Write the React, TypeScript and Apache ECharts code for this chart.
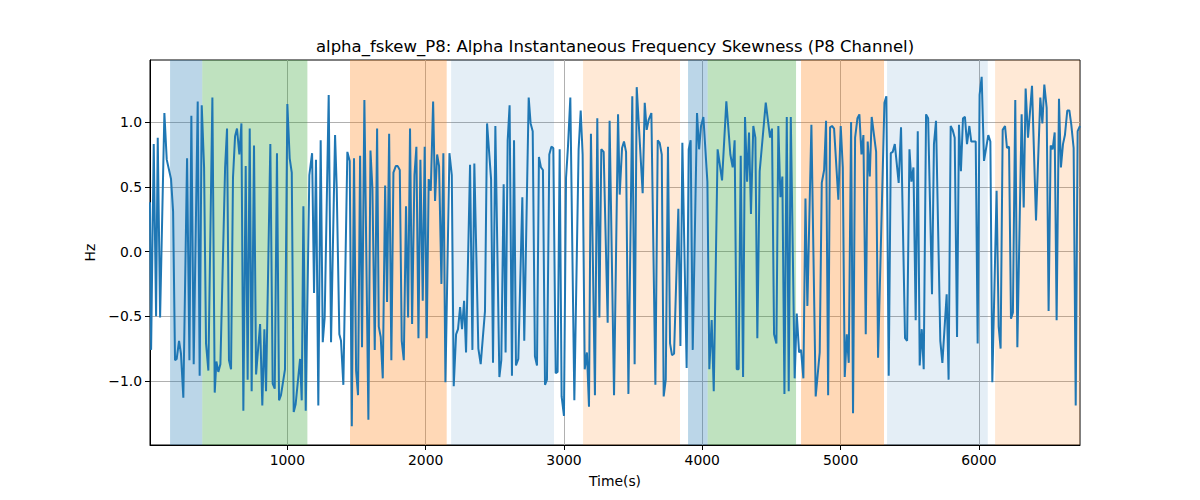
import React, { useEffect, useRef } from "react";
import * as echarts from "echarts";

// time in seconds and the alpha skewness (Hz)
const timeS = [
  7, 15, 34, 51, 63, 80, 111, 128, 159, 174, 188, 200, 217, 231, 248, 275, 292, 306, 323, 352,
  366, 381, 398, 412, 429, 458, 475, 487, 501, 516, 550, 564, 578, 593, 607, 622, 636, 653, 668, 682,
  699, 713, 728, 742, 759, 774, 803, 819, 834, 846, 877, 894, 909, 925, 940, 954, 983, 1000, 1017, 1032,
  1046, 1060, 1092, 1104, 1116, 1133, 1159, 1179, 1193, 1207, 1224, 1241, 1256, 1270, 1299, 1316, 1345, 1357, 1376, 1388,
  1405, 1434, 1451, 1466, 1482, 1497, 1511, 1526, 1540, 1557, 1586, 1601, 1615, 1632, 1649, 1661, 1675, 1690, 1707, 1721,
  1736, 1752, 1767, 1784, 1798, 1813, 1827, 1842, 1858, 1873, 1887, 1902, 1919, 1933, 1948, 1962, 1979, 1993, 2008, 2022,
  2037, 2054, 2068, 2083, 2097, 2114, 2128, 2143, 2172, 2189, 2203, 2220, 2234, 2249, 2263, 2278, 2292, 2321, 2338, 2352,
  2381, 2398, 2429, 2444, 2473, 2487, 2504, 2533, 2547, 2564, 2578, 2593, 2607, 2624, 2639, 2653, 2670, 2699, 2713, 2745,
  2759, 2774, 2790, 2805, 2819, 2834, 2848, 2863, 2877, 2894, 2909, 2923, 2940, 2954, 2969, 2983, 3000, 3015, 3029, 3046,
  3075, 3106, 3121, 3135, 3150, 3166, 3181, 3195, 3224, 3241, 3256, 3270, 3287, 3316, 3330, 3362, 3391, 3403, 3420, 3434,
  3449, 3466, 3494, 3511, 3526, 3569, 3584, 3598, 3613, 3632, 3661, 3678, 3692, 3707, 3721, 3736, 3752, 3767, 3781, 3796,
  3827, 3842, 3856, 3887, 3902, 3916, 3931, 3962, 3977, 3991, 4008, 4037, 4051, 4068, 4083, 4111, 4143, 4174, 4203, 4220,
  4234, 4249, 4263, 4278, 4295, 4309, 4324, 4338, 4352, 4369, 4384, 4398, 4415, 4459, 4490, 4504, 4519, 4536, 4550, 4565,
  4579, 4594, 4611, 4625, 4640, 4668, 4683, 4700, 4714, 4731, 4746, 4760, 4789, 4820, 4849, 4864, 4881, 4895, 4910, 4924,
  4938, 4953, 4984, 5001, 5016, 5030, 5045, 5059, 5076, 5090, 5105, 5122, 5136, 5151, 5165, 5182, 5196, 5211, 5225, 5257,
  5271, 5317, 5331, 5348, 5363, 5377, 5392, 5420, 5437, 5466, 5481, 5498, 5512, 5527, 5543, 5558, 5572, 5587, 5601, 5618,
  5633, 5661, 5675, 5690, 5721, 5736, 5767, 5781, 5796, 5810, 5825, 5842, 5856, 5870, 5885, 5899, 5914, 5931, 5945, 5977,
  5991, 6005, 6020, 6037, 6068, 6083, 6097, 6128, 6143, 6157, 6172, 6189, 6203, 6218, 6232, 6246, 6263, 6278, 6309, 6324,
  6338, 6355, 6384, 6413, 6444, 6459, 6473, 6490, 6504, 6519, 6533, 6548, 6562, 6579, 6593, 6608, 6622, 6639, 6654, 6668,
  6685, 6700, 6714, 6731,
];

const skewHz = [
  0.38, -0.76, 0.83, -0.5, 0.88, -0.51, 1.07, 0.71, 0.56, 0.31, -0.84, -0.83, -0.69, -0.79, -1.13, 0.72, -0.84, 1.05, -0.87, 1.16,
  -0.96, 1.13, 0.65, -0.71, -0.92, 1.19, -1.09, -0.85, -0.93, -0.87, 0.65, 0.95, -0.84, -0.91, 0.57, 0.89, 0.95, 0.75, 0.99, -1.23,
  0.66, -0.99, 0.95, -1.08, 0.82, -0.95, -0.56, -1.19, -0.6, -1.08, 0.83, -1.02, -1.06, 0.76, -1.15, -1.11, -0.91, 1.14, 0.72, 0.61,
  -1.24, -1.18, -0.83, -1.15, 0.35, -1.23, 0.59, 0.76, -0.32, 0.71, -1.19, 0.86, -0.7, -0.51, 1.21, -0.7, 0.9, 0.49, -0.64, -0.69,
  -1.03, 0.77, 0.7, -1.35, 0.72, -0.92, -1.11, 0.74, -0.74, 1.17, -1.3, 0.78, 0.49, -0.76, 0.95, -0.58, -0.66, -0.98, 0.51, -0.39,
  0.91, -0.84, 0.61, 0.66, 0.66, 0.63, -0.69, -0.84, 0.35, -0.51, 0.95, -0.56, 0.59, 0.81, -0.67, 0.71, -0.38, 0.81, -0.67, 0.56,
  0.47, 1.16, 0.39, 0.75, 0.66, -0.25, 0.76, -1.01, 0.76, 0.59, -1.04, -0.64, -0.6, -0.43, -0.6, -0.38, -0.78, 0.67, -0.76, 0.68,
  -0.75, -0.87, -0.46, 0.99, 0.56, -0.86, 0.97, -0.97, -0.84, 0.52, -0.78, 0.86, 1.13, -0.96, 0.86, -0.88, -0.83, 0.42, -0.69, 1.19,
  0.99, 0.93, -0.81, -0.88, 0.73, 0.65, 0.63, -1.03, -0.99, 0.75, 0.81, 0.8, -0.94, -0.93, 0.79, -1.12, -1.27, 0.57, 0.81, 1.19,
  -1.15, 0.79, 1.09, 0.75, -0.91, -0.78, -1.2, 0.91, -1.11, 1.03, -0.51, 0.79, 0.77, -0.55, 1.01, -1.11, 1.06, 0.44, 0.8, 0.85,
  0.77, -1.1, 1.2, -0.87, 1.27, 0.45, 1.15, 0.94, 1.02, 1.07, -1.03, 0.86, 0.84, 0.75, -1.12, -0.99, 0.81, -0.71, -0.8, -0.79,
  0.33, -0.73, 0.84, -0.9, 0.79, 0.86, -0.76, 1.07, 0.79, 0.97, 1.04, 0.54, -0.91, -0.53, -1.08, 0.79, 0.55, 1.16, 0.75, 0.65,
  0.86, -0.91, -0.91, 0.74, -0.97, 1.04, 0.54, 0.92, 0.29, 0.97, 0.88, -0.67, 0.62, 1.15, 0.88, 0.95, -0.64, -0.71, 0.97, 0.42,
  0.58, -1.1, 1.04, -1.08, 1.04, -0.98, -0.48, -0.78, -0.76, -0.98, 0.41, -0.42, 0.98, -1.12, -0.78, 0.53, 0.63, 1.01, -1.11, 0.96,
  0.97, 0.95, 0.4, 0.97, 0.65, -0.97, -0.64, -0.86, 1.0, -1.25, 0.88, 1.03, 1.06, 0.75, 0.9, -0.64, 0.85, 0.58, 1.04, 0.77,
  -0.82, 1.15, 1.2, -0.96, 0.76, 0.77, 0.83, 0.53, 0.96, -0.67, -0.69, 0.79, 0.54, 0.65, -0.53, 0.93, -0.88, -0.6, -0.91, 1.06,
  1.03, -0.33, 0.83, 1.01, -0.69, -0.86, -0.33, -0.99, 0.97, 0.94, 0.88, -0.66, 0.98, 0.62, 1.03, 1.04, 0.83, 0.97, 0.85, 0.85,
  -0.71, 1.21, 1.35, 0.7, 0.9, 0.85, -1.01, 0.47, -0.58, -0.75, 0.94, 0.97, 0.8, 0.81, -0.52, -0.47, 1.17, -0.74, 1.06, 0.34,
  1.26, 0.88, 1.28, 0.24, 1.19, 0.99, 1.29, 1.11, -0.46, 0.82, 0.79, 0.92, -0.53, 1.18, 0.65, 0.83, 0.9, 1.09, 1.09, 0.98,
  0.8, -1.19, 0.93, 0.97,
];

const xTicks = [1000, 2000, 3000, 4000, 5000, 6000];
const yTicks = [-1.0, -0.5, 0.0, 0.5, 1.0];

// shaded segments
const bandStart = [152, 385, 1453, 2184, 3138, 3897, 4039, 4714, 5336, 6117];
const bandEnd = [385, 1145, 2152, 2928, 3839, 4039, 4678, 5314, 6064, 6731];
const bandKind = ["blue", "green", "orange", "paleBlue", "paleOrange", "blue", "green", "orange", "paleBlue", "paleOrange"];

const bandColors: Record<string, string> = {
  blue: "rgba(31,119,180,0.3)",
  green: "rgba(44,160,44,0.3)",
  orange: "rgba(255,127,14,0.3)",
  paleBlue: "rgba(31,119,180,0.12)",
  paleOrange: "rgba(255,127,14,0.17)",
};

const fmt = (v: number) => {
  const s = Math.abs(v).toFixed(1);
  return v < 0 ? "\u2212" + s : s;
};

const FONT = "DejaVu Sans";

const App: React.FC = () => {
  const chartRef = useRef<HTMLDivElement>(null);

  useEffect(() => {
    document.body.style.margin = "0";
    const chart = echarts.init(chartRef.current, null, { renderer: "svg" });
    const points = timeS.map((t, i) => [t, skewHz[i]]);
    const areas = bandStart.map((s, i) => [
      { xAxis: s, itemStyle: { color: bandColors[bandKind[i]] } },
      { xAxis: bandEnd[i] },
    ]);

    chart.setOption({
      animation: false,
      textStyle: { fontFamily: FONT },
      graphic: [
        {
          type: "text",
          x: 615,
          y: 46,
          style: {
            text: "alpha_fskew_P8: Alpha Instantaneous Frequency Skewness (P8 Channel)",
            font: `16.5px "${FONT}"`,
            fill: "#000",
            textAlign: "center",
            textVerticalAlign: "middle",
          },
        },
      ],
      grid: {
        left: 150,
        right: 120,
        top: 60,
        bottom: 55,
        show: true,
        borderColor: "#000",
        borderWidth: 1,
        backgroundColor: "transparent",
      },
      xAxis: {
        type: "value",
        min: 7,
        max: 6731,
        name: "Time(s)",
        nameLocation: "middle",
        nameGap: 29,
        nameTextStyle: { fontSize: 13.9, color: "#000", fontFamily: FONT },
        axisLine: { show: true, onZero: false, lineStyle: { color: "#000", width: 1 } },
        axisTick: { show: true, length: 5, customValues: xTicks, lineStyle: { color: "#000" } },
        axisLabel: {
          customValues: xTicks,
          color: "#000",
          fontSize: 13.9,
          margin: 8,
          fontFamily: FONT,
          formatter: (v: number) => String(v),
        },
        splitLine: { show: true, lineStyle: { color: "#b0b0b0", width: 1 } },
      },
      yAxis: {
        type: "value",
        min: -1.495,
        max: 1.48,
        name: "Hz",
        nameLocation: "middle",
        nameGap: 50,
        nameTextStyle: { fontSize: 13.9, color: "#000", fontFamily: FONT },
        axisLine: { show: true, onZero: false, lineStyle: { color: "#000", width: 1 } },
        axisTick: { show: true, length: 5, customValues: yTicks, lineStyle: { color: "#000" } },
        axisLabel: { customValues: yTicks, color: "#000", fontSize: 13.9, margin: 8, fontFamily: FONT, formatter: fmt },
        splitLine: { show: true, lineStyle: { color: "#b0b0b0", width: 1 } },
      },
      series: [
        {
          type: "line",
          data: points,
          showSymbol: false,
          lineStyle: { color: "#1f77b4", width: 2 },
          markArea: { silent: true, data: areas },
        },
      ],
    });

    return () => {
      chart.dispose();
    };
  }, []);

  return <div ref={chartRef} style={{ width: 1200, height: 500 }}></div>;
};

export default App;
